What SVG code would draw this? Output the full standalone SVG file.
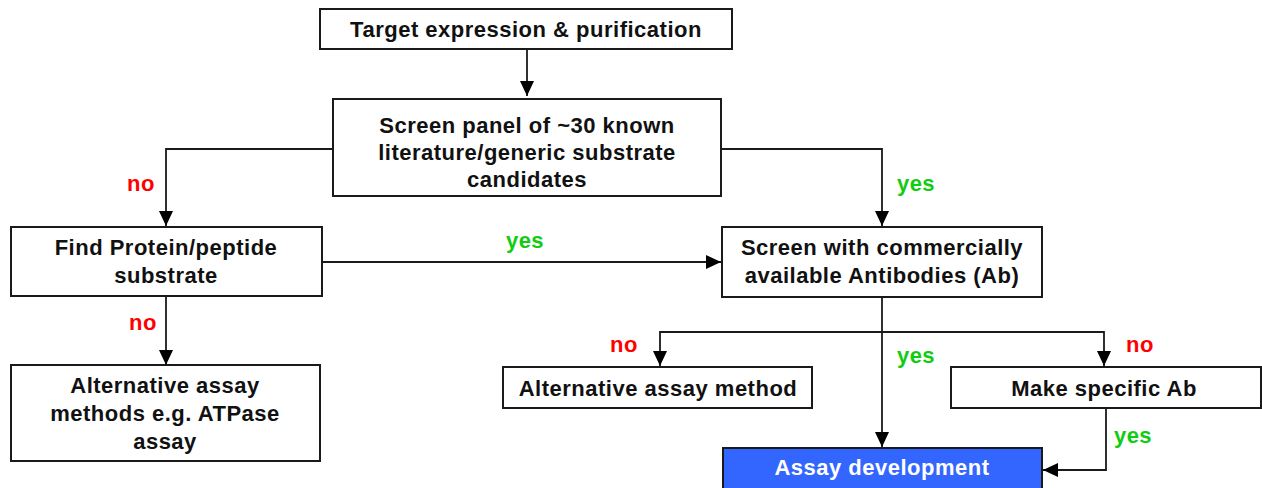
<svg xmlns="http://www.w3.org/2000/svg" width="1262" height="488" viewBox="0 0 1262 488">
<style>
.box{fill:#fff;stroke:#1a1a1a;stroke-width:2}
.blue{fill:#3366ff;stroke:#1a1a1a;stroke-width:2}
.t{font-family:"Liberation Sans",Arial,sans-serif;font-weight:bold;font-size:22px;letter-spacing:0.5px;text-anchor:middle;fill:#111}
.w{fill:#fff}
.no{fill:#ff0000}
.yes{fill:#11cc11}
.c{fill:none;stroke:#1a1a1a;stroke-width:1.8}
</style>
<defs>
<marker id="ah" viewBox="0 0 15 15" refX="15" refY="7.5" markerWidth="15" markerHeight="15" markerUnits="userSpaceOnUse" orient="auto">
<path d="M0,0.5 L15,7.5 L0,14.5 Z" fill="#000"/>
</marker>
</defs>
<rect width="1262" height="488" fill="#fff"/>
<g id="connectors">
<path class="c" d="M527,49 V96" marker-end="url(#ah)"/>
<path class="c" d="M333,149 H166 V226" marker-end="url(#ah)"/>
<path class="c" d="M721,149 H882 V226" marker-end="url(#ah)"/>
<path class="c" d="M322,262 H721" marker-end="url(#ah)"/>
<path class="c" d="M166,296 V365" marker-end="url(#ah)"/>
<path class="c" d="M882,297 V447" marker-end="url(#ah)"/>
<path class="c" d="M882,332 H660 V366" marker-end="url(#ah)"/>
<path class="c" d="M882,332 H1104 V366" marker-end="url(#ah)"/>
<path class="c" d="M1106,408 V470 H1043" marker-end="url(#ah)"/>
<text class="t no" x="141" y="191">no</text>
<text class="t no" x="143" y="330">no</text>
<text class="t yes" x="525" y="248">yes</text>
<text class="t yes" x="916" y="191">yes</text>
<text class="t no" x="624" y="352">no</text>
<text class="t yes" x="916" y="363">yes</text>
<text class="t no" x="1140" y="352">no</text>
<text class="t yes" x="1133" y="443">yes</text>
</g>
<g id="n1">
<rect class="box" x="320" y="9" width="412" height="40"/>
<text class="t" x="526" y="37">Target expression &amp; purification</text>
</g>
<g id="n2">
<rect class="box" x="333" y="99" width="388" height="97"/>
<text class="t" x="527" y="133">Screen panel of ~30 known</text>
<text class="t" x="527" y="160">literature/generic substrate</text>
<text class="t" x="527" y="187">candidates</text>
</g>
<g id="n3">
<rect class="box" x="11" y="227" width="311" height="69"/>
<text class="t" x="166" y="255">Find Protein/peptide</text>
<text class="t" x="166" y="283">substrate</text>
</g>
<g id="n4">
<rect class="box" x="722" y="227" width="320" height="70"/>
<text class="t" x="882" y="255">Screen with commercially</text>
<text class="t" x="882" y="283">available Antibodies (Ab)</text>
</g>
<g id="n5">
<rect class="box" x="11" y="365" width="309" height="96"/>
<text class="t" x="165" y="393">Alternative assay</text>
<text class="t" x="165" y="421">methods e.g. ATPase</text>
<text class="t" x="165" y="449">assay</text>
</g>
<g id="n6">
<rect class="box" x="503" y="367" width="309" height="41"/>
<text class="t" x="658" y="396">Alternative assay method</text>
</g>
<g id="n7">
<rect class="box" x="951" y="367" width="310" height="41"/>
<text class="t" x="1104" y="396">Make specific Ab</text>
</g>
<g id="n8">
<rect class="blue" x="723" y="448" width="319" height="50"/>
<text class="t w" x="882" y="475">Assay development</text>
</g>
</svg>
